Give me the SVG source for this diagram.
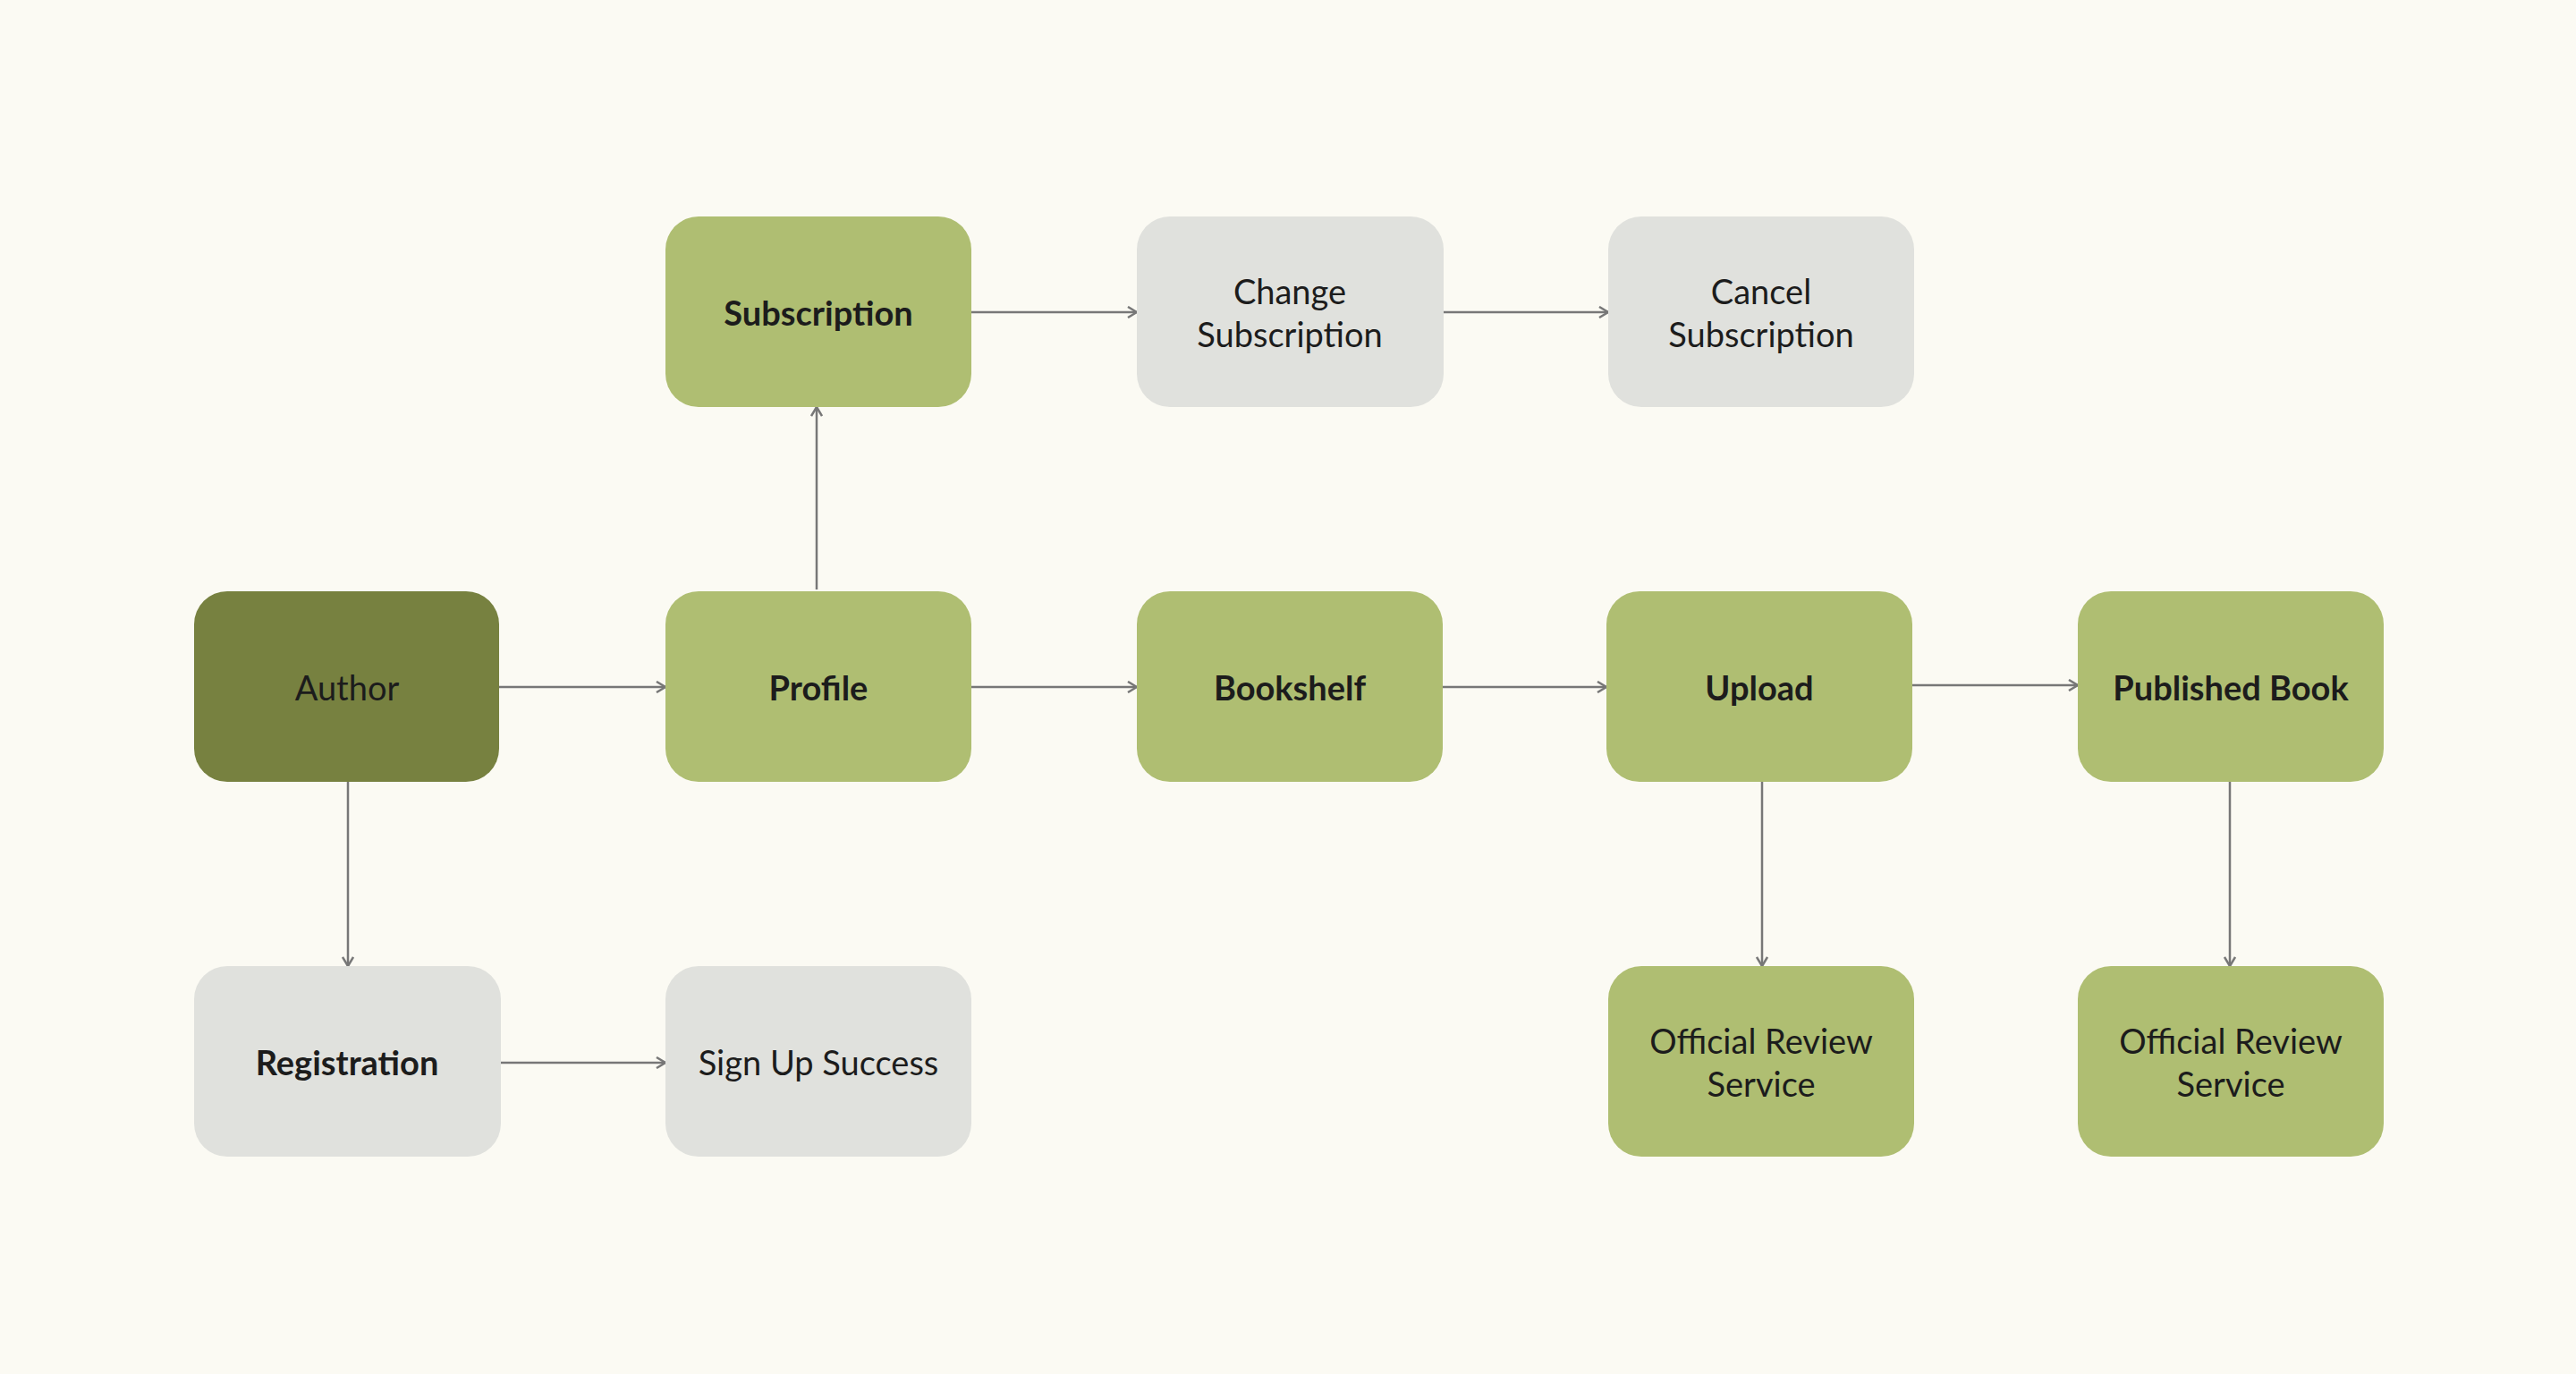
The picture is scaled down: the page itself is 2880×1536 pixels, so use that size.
<svg xmlns="http://www.w3.org/2000/svg" width="2880" height="1536" viewBox="0 0 2880 1536">
<style>
.n{stroke:none}
.g{fill:#AFBE72}.d{fill:#778140}.l{fill:#E0E1DD}
text{font-family:"Lato","Open Sans",sans-serif;font-size:38px;fill:#1c1c1c;text-anchor:middle;dominant-baseline:central}
.b{font-weight:bold}
.c line{stroke:#777;stroke-width:2.5;marker-end:url(#a)}
</style>
<defs><marker id="a" markerWidth="14" markerHeight="14" refX="12" refY="7" orient="auto" markerUnits="userSpaceOnUse"><path d="M2,1 L12,7 L2,13" fill="none" stroke="#777" stroke-width="2.5"/></marker></defs>
<rect width="2880" height="1536" fill="#FBFAF3"/>
<g class="c">
<line x1="558" y1="768" x2="744" y2="768"/>
<line x1="1086" y1="768" x2="1271" y2="768"/>
<line x1="1613" y1="768" x2="1796" y2="768"/>
<line x1="2138" y1="766" x2="2323" y2="766"/>
<line x1="913" y1="659" x2="913" y2="455"/>
<line x1="1086" y1="349" x2="1271" y2="349"/>
<line x1="1614" y1="349" x2="1798" y2="349"/>
<line x1="389" y1="874" x2="389" y2="1080"/>
<line x1="560" y1="1188" x2="744" y2="1188"/>
<line x1="1970" y1="874" x2="1970" y2="1080"/>
<line x1="2493" y1="874" x2="2493" y2="1080"/>
</g>
<g id="subscription"><rect class="g" x="744" y="242" width="342" height="213" rx="37"/><text class="b" x="915" y="349">Subscription</text></g>
<g id="change"><rect class="l" x="1271" y="242" width="343" height="213" rx="37"/><text x="1442" y="325">Change</text><text x="1442" y="373">Subscription</text></g>
<g id="cancel"><rect class="l" x="1798" y="242" width="342" height="213" rx="37"/><text x="1969" y="325">Cancel</text><text x="1969" y="373">Subscription</text></g>
<g id="author"><rect class="d" x="217" y="661" width="341" height="213" rx="37"/><text x="388" y="768">Author</text></g>
<g id="profile"><rect class="g" x="744" y="661" width="342" height="213" rx="37"/><text class="b" x="915" y="768">Profile</text></g>
<g id="bookshelf"><rect class="g" x="1271" y="661" width="342" height="213" rx="37"/><text class="b" x="1442" y="768">Bookshelf</text></g>
<g id="upload"><rect class="g" x="1796" y="661" width="342" height="213" rx="37"/><text class="b" x="1967" y="768">Upload</text></g>
<g id="published"><rect class="g" x="2323" y="661" width="342" height="213" rx="37"/><text class="b" x="2494" y="768">Published Book</text></g>
<g id="registration"><rect class="l" x="217" y="1080" width="343" height="213" rx="37"/><text class="b" x="388" y="1187">Registration</text></g>
<g id="signup"><rect class="l" x="744" y="1080" width="342" height="213" rx="37"/><text x="915" y="1187">Sign Up Success</text></g>
<g id="review1"><rect class="g" x="1798" y="1080" width="342" height="213" rx="37"/><text x="1969" y="1163">Official Review</text><text x="1969" y="1211">Service</text></g>
<g id="review2"><rect class="g" x="2323" y="1080" width="342" height="213" rx="37"/><text x="2494" y="1163">Official Review</text><text x="2494" y="1211">Service</text></g>
</svg>
